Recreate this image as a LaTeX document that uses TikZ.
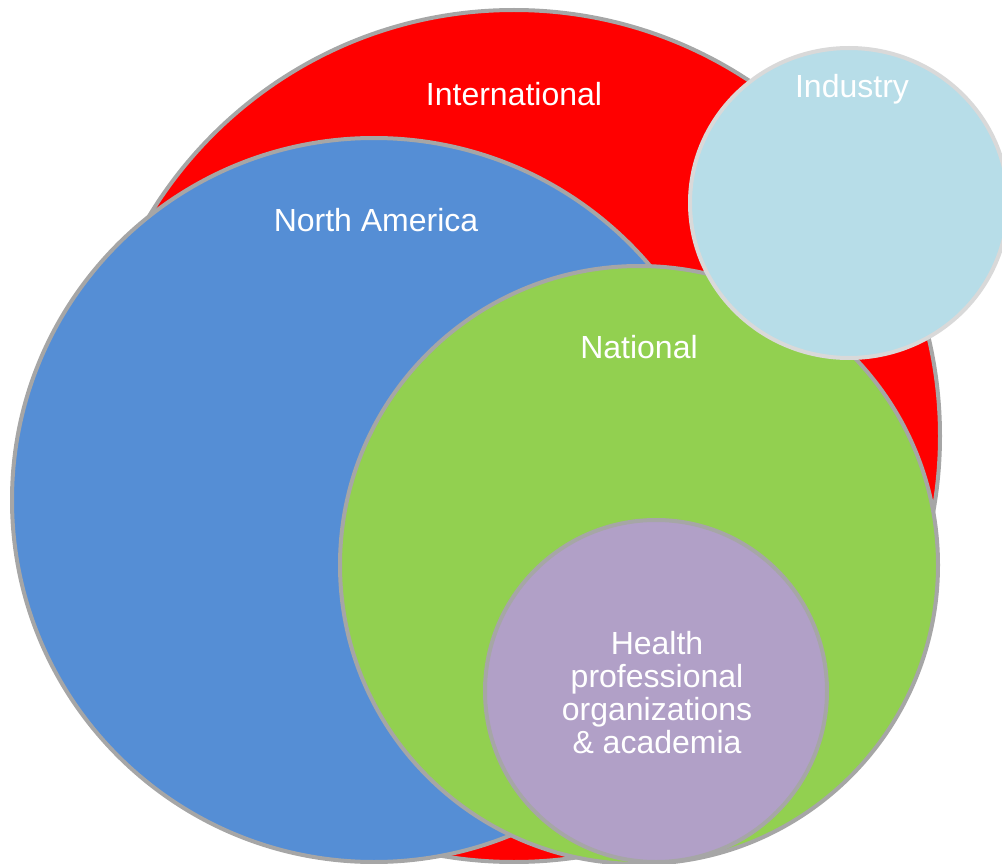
\documentclass[tikz,border=0pt]{standalone}
\usepackage{fontspec}
\setmainfont{Liberation Sans}
\usetikzlibrary{shapes.geometric}
\definecolor{intlred}{HTML}{FF0000}
\definecolor{nablue}{HTML}{558ED5}
\definecolor{natgreen}{HTML}{92D050}
\definecolor{hpurple}{HTML}{B1A0C7}
\definecolor{indblue}{HTML}{B7DDE8}
\definecolor{rimgray}{HTML}{A6A6A6}
\definecolor{rimlight}{HTML}{D9D9D9}
\tikzset{
  disc/.style={circle, draw=rimgray, line width=4pt, inner sep=0pt},
  label text/.style={text=white, anchor=base, font=\fontsize{32}{33}\selectfont, align=center}
}
\begin{document}
\begin{tikzpicture}[x=1pt, y=-1pt]
  \useasboundingbox (0,0) rectangle (1002,864);
  % nested circles, largest first
  \node[disc, fill=intlred, minimum size=852pt] (intl) at (514,436) {};
  \node[disc, fill=nablue, minimum size=724pt] (na) at (374,500) {};
  \node[disc, fill=natgreen, minimum size=598pt] (nat) at (639,565) {};
  \node[disc, fill=hpurple, minimum size=342pt] (hpo) at (656,691) {};
  \node[ellipse, draw=rimlight, line width=4pt, fill=indblue, inner sep=0pt,
        minimum width=318pt, minimum height=310pt] (ind) at (849,203) {};
  % labels
  \node[label text] (intl label) at (514,106) {International};
  \node[label text] (na label) at (376,232) {North America};
  \node[label text] (nat label) at (639,358) {National};
  \node[label text] (ind label) at (852,98) {Industry};
  \node[label text, anchor=north] (hpo label) at (657,628)
    {Health\\professional\\organizations\\\& academia};
\end{tikzpicture}
\end{document}
